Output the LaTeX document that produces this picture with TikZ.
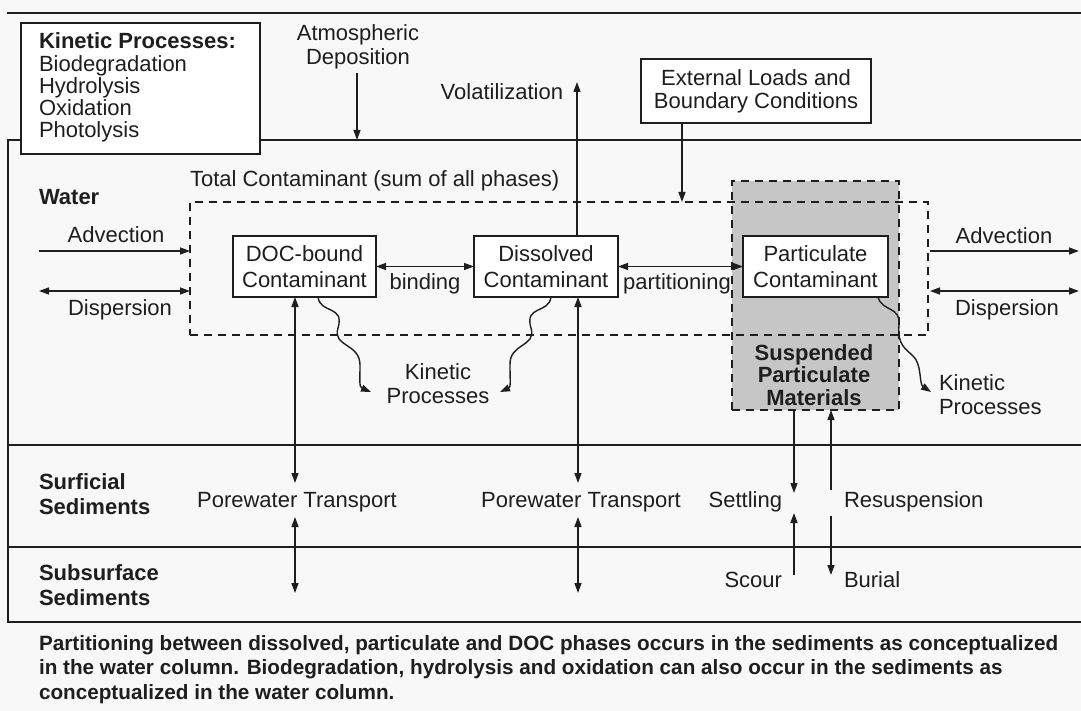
\documentclass[tikz,border=0pt]{standalone}
\usepackage{fontspec}
\setmainfont{Liberation Sans}
\usetikzlibrary{arrows.meta,calc}
\definecolor{ink}{RGB}{30,30,30}
\definecolor{graybox}{RGB}{198,198,198}
\definecolor{paper}{RGB}{248,248,248}
\begin{document}
\begin{tikzpicture}[x=1pt,y=-1pt,
  every node/.style={inner sep=0pt, outer sep=0pt, text=ink},
  lbl/.style={font=\fontsize{22}{24}\selectfont},
  blbl/.style={font=\bfseries\fontsize{22}{25}\selectfont, align=left},
  boxnode/.style={draw=ink, line width=1.5pt, fill=white, align=center, font=\fontsize{22}{26}\selectfont},
  struct/.style={draw=ink, line width=2pt},
  tip/.tip={Triangle[length=10pt,width=7pt]},
  arr/.style={draw=ink, line width=1.4pt, -tip},
  darr/.style={draw=ink, line width=1.4pt, tip-tip},
  dsh/.style={draw=ink, line width=1.4pt, dash pattern=on 8pt off 6pt},
]
% canvas
\fill[paper] (0,0) rectangle (1081,711);
\useasboundingbox (0,0) rectangle (1081,711);

% frame lines
\coordinate (tl) at (7,13);
\coordinate (tr) at (1081,13);
\draw[struct] (tl) -- (tr);
\coordinate (fTL) at (8,140);
\coordinate (fTR) at (1081,140);
\coordinate (fBL) at (8,622);
\coordinate (fBR) at (1081,622);
\coordinate (s1L) at (8,445);
\coordinate (s1R) at (1081,445);
\coordinate (s2L) at (8,547);
\coordinate (s2R) at (1081,547);
\draw[struct] (fTR) -- (fTL) -- (fBL) -- (fBR);
\draw[struct] (s1L) -- (s1R);
\draw[struct] (s2L) -- (s2R);

% suspended particulate materials (grey, dashed)
\node[dsh, fill=graybox, minimum width=167pt, minimum height=229pt] (spm) at (815.5,295.5) {};
\node[font=\bfseries\fontsize{22}{22.5}\selectfont, align=center] (spmlbl) at (814,375) {Suspended\\Particulate\\Materials};

% total contaminant dashed box
\node[dsh, minimum width=738pt, minimum height=133pt] (tot) at (559,268.5) {};
\node[lbl, anchor=base west] (totlbl) at (190,187) {Total Contaminant (sum of all phases)};

% kinetic processes box
\node[draw=ink, line width=1.5pt, fill=white, minimum width=239pt, minimum height=131pt] (kinbox) at (140.5,88.5) {};
\node[font=\fontsize{22}{22.2}\selectfont, align=left, anchor=north west] (kinlist) at (39,33)
  {\textbf{Kinetic Processes:}\\Biodegradation\\Hydrolysis\\Oxidation\\Photolysis};

% top labels
\node[lbl, align=center] (atm) at (358,47) {Atmospheric\\Deposition};
\coordinate (atmEnd) at (357,140);
\draw[arr, shorten <=4pt] (atm.south -| atmEnd) -- (atmEnd);

\node[lbl, anchor=base east] (vol) at (563,100) {Volatilization};

\node[boxnode, font=\fontsize{22}{23}\selectfont, minimum width=230pt, minimum height=64pt] (ext) at (756,91) {External Loads and\\Boundary Conditions};
\coordinate (extEnd) at (682,202);
\draw[arr] (ext.south -| extEnd) -- (extEnd);

% layer labels
\node[blbl, anchor=base west] (water) at (39,205) {Water};
\node[blbl, anchor=west] (surf) at (39,494) {Surficial\\Sediments};
\node[blbl, anchor=west] (subs) at (39,585) {Subsurface\\Sediments};

% contaminant boxes
\node[boxnode, minimum width=143pt, minimum height=61pt] (doc) at (304.5,266.5) {DOC-bound\\Contaminant};
\node[boxnode, minimum width=144pt, minimum height=61pt] (dis) at (546,266.5) {Dissolved\\Contaminant};
\node[boxnode, minimum width=145pt, minimum height=61pt] (par) at (815.5,266.5) {Particulate\\Contaminant};

\draw[darr] (doc) -- (dis);
\draw[darr] (dis) -- (par);
\node[lbl, anchor=base] (bind) at (425,290) {binding};
\node[lbl, anchor=base] (part) at (677,290) {partitioning};

% volatilization
\coordinate (volTop) at (577,82);
\draw[arr] (volTop |- dis.north) -- (volTop);

% advection / dispersion
\node[lbl, anchor=base] (advL) at (116,243) {Advection};
\node[lbl, anchor=base] (dspL) at (120,315) {Dispersion};
\coordinate (advLs) at (39,251);
\coordinate (dspLs) at (39,291);
\draw[arr] (advLs) -- (advLs -| tot.west);
\draw[darr] (dspLs) -- (dspLs -| tot.west);

\node[lbl, anchor=base] (advR) at (1004,244) {Advection};
\node[lbl, anchor=base] (dspR) at (1007,315) {Dispersion};
\coordinate (advRe) at (1079,251);
\coordinate (dspRe) at (1079,291);
\draw[arr, shorten <=2pt] (advRe -| tot.east) -- (advRe);
\draw[darr, shorten <=2pt] (dspRe -| tot.east) -- (dspRe);

% kinetic processes (wavy)
\node[lbl, align=center] (kin1) at (438,384) {Kinetic\\Processes};
\node[lbl, align=left, anchor=west] (kin2) at (939,395) {Kinetic\\Processes};
\coordinate (k1a) at (371,392);
\coordinate (k1b) at (500,392);
\coordinate (k2) at (931,392);
\draw[arr] ($(doc.south)+(13.5,0)$) .. controls (320,314) and (345,305) .. (338,328)
   .. controls (332,347) and (360,343) .. (360,365)
   .. controls (360,381) and (359,387) .. (k1a);
\draw[arr] ($(dis.south)+(5,0)$) .. controls (549,314) and (524,305) .. (531,328)
   .. controls (537,347) and (509,343) .. (510,365)
   .. controls (510,381) and (511,387) .. (k1b);
\draw[arr] ($(par.south)+(62.5,0)$) .. controls (882,312) and (901,306) .. (899,325)
   .. controls (897,345) and (906,349) .. (913,356)
   .. controls (922,364) and (919,384) .. (k2);

% porewater transport
\coordinate (docPw) at (295,483);
\coordinate (docPw2) at (295,517);
\coordinate (docDeep) at (295,593);
\draw[darr] (docPw |- doc.south) -- (docPw);
\draw[darr] (docPw2) -- (docDeep);
\node[lbl, anchor=base] (pw1) at (297,507) {Porewater Transport};

\coordinate (disPw) at (578,483);
\coordinate (disPw2) at (578,517);
\coordinate (disDeep) at (578,593);
\draw[darr] (disPw |- dis.south) -- (disPw);
\draw[darr] (disPw2) -- (disDeep);
\node[lbl, anchor=base] (pw2) at (581,507) {Porewater Transport};

% settling / resuspension / scour / burial
\coordinate (setE) at (794,493);
\coordinate (resS) at (831,490);
\coordinate (scS) at (794,575);
\coordinate (scE) at (794,513);
\coordinate (buS) at (831,516);
\coordinate (buE) at (831,575);
\draw[arr] (setE |- spm.south) -- (setE);
\draw[arr] (resS) -- (resS |- spm.south);
\draw[arr] (scS) -- (scE);
\draw[arr] (buS) -- (buE);
\node[lbl, anchor=base east] (setl) at (782,507) {Settling};
\node[lbl, anchor=base west] (resl) at (844,507) {Resuspension};
\node[lbl, anchor=base east] (scl) at (782,587) {Scour};
\node[lbl, anchor=base west] (bul) at (844,587) {Burial};

% caption
\node[font=\bfseries\fontsize{20.7}{24.5}\selectfont, align=left, anchor=north west] (cap) at (39,635)
  {Partitioning between dissolved, particulate and DOC phases occurs in the sediments as conceptualized\\
   in the water column. Biodegradation, hydrolysis and oxidation can also occur in the sediments as\\
   conceptualized in the water column.};
\end{tikzpicture}
\end{document}
